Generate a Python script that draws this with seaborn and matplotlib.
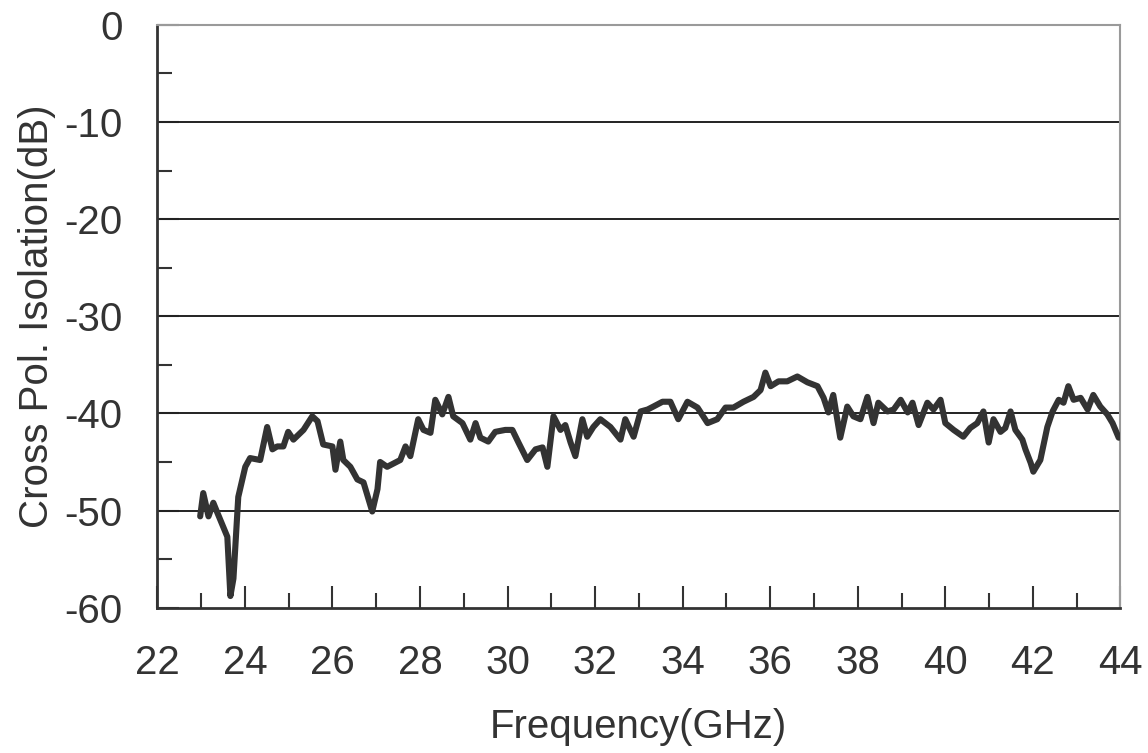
import pandas as pd
import matplotlib.pyplot as plt
import seaborn as sns

# === DADOS ===
freq_ghz = [
    22.98, 23.05, 23.17, 23.28, 23.37, 23.60, 23.67, 23.74, 23.85, 24.01,
    24.12, 24.35, 24.51, 24.63, 24.74, 24.88, 24.99, 25.11, 25.34, 25.54,
    25.66, 25.79, 26.00, 26.07, 26.18, 26.25, 26.41, 26.57, 26.71, 26.91,
    27.03, 27.09, 27.25, 27.55, 27.67, 27.78, 27.96, 28.08, 28.24, 28.35,
    28.51, 28.65, 28.76, 28.97, 29.15, 29.27, 29.38, 29.56, 29.72, 29.95,
    30.11, 30.25, 30.45, 30.64, 30.80, 30.91, 31.05, 31.21, 31.32, 31.44,
    31.55, 31.71, 31.82, 31.96, 32.12, 32.35, 32.58, 32.69, 32.88, 33.04,
    33.20, 33.33, 33.54, 33.72, 33.90, 34.11, 34.34, 34.57, 34.79, 34.98,
    35.16, 35.39, 35.62, 35.78, 35.89, 36.01, 36.19, 36.39, 36.62, 36.85,
    37.08, 37.22, 37.33, 37.44, 37.60, 37.76, 37.90, 38.06, 38.22, 38.36,
    38.47, 38.68, 38.82, 38.98, 39.14, 39.25, 39.39, 39.59, 39.73, 39.89,
    40.00, 40.19, 40.41, 40.57, 40.73, 40.87, 40.99, 41.10, 41.26, 41.37,
    41.49, 41.60, 41.76, 41.83, 41.95, 42.01, 42.17, 42.33, 42.45, 42.59,
    42.70, 42.81, 42.93, 43.09, 43.25, 43.38, 43.54, 43.70, 43.82, 43.96,
]
isolacao_db = [
    -50.6, -48.2, -50.6, -49.2, -50.2, -52.7, -58.8, -57.0, -48.6, -45.5,
    -44.6, -44.8, -41.4, -43.7, -43.4, -43.4, -41.9, -42.7, -41.7, -40.3,
    -40.8, -43.2, -43.4, -45.8, -42.9, -44.8, -45.5, -46.8, -47.1, -50.1,
    -47.8, -45.0, -45.5, -44.8, -43.4, -44.4, -40.6, -41.7, -42.0, -38.6,
    -40.1, -38.3, -40.3, -41.0, -42.7, -41.0, -42.5, -42.9, -41.9, -41.7,
    -41.7, -43.0, -44.8, -43.7, -43.5, -45.5, -40.3, -41.7, -41.2, -43.0,
    -44.4, -40.6, -42.4, -41.4, -40.6, -41.4, -42.7, -40.6, -42.4, -39.8,
    -39.6, -39.3, -38.8, -38.8, -40.6, -38.8, -39.4, -41.0, -40.6, -39.4,
    -39.4, -38.8, -38.3, -37.6, -35.8, -37.2, -36.7, -36.7, -36.2, -36.8,
    -37.2, -38.4, -39.9, -38.1, -42.5, -39.3, -40.3, -40.6, -38.3, -41.0,
    -38.9, -39.8, -39.6, -38.6, -39.9, -38.9, -41.2, -38.9, -39.6, -38.6,
    -41.0, -41.7, -42.4, -41.5, -41.0, -39.8, -43.0, -40.6, -41.9, -41.5,
    -39.8, -41.7, -42.7, -43.7, -45.1, -46.0, -44.8, -41.4, -39.8, -38.6,
    -38.9, -37.2, -38.6, -38.4, -39.6, -38.1, -39.3, -40.1, -41.0, -42.5,
]

df = pd.DataFrame({"freq": freq_ghz, "iso": isolacao_db})

# === ESTILO ===
sns.set_style("ticks")
plt.rcParams['font.family'] = ['Liberation Sans', 'DejaVu Sans']
plt.rcParams['axes.unicode_minus'] = False  # hífen comum, como no original
cor_texto = '#333333'

fig = plt.figure(figsize=(11.48, 7.53), dpi=100)
ax = fig.add_axes([0.137, 0.193, 0.839, 0.774])

# linhas de grade horizontais
for y in [-10, -20, -30, -40, -50]:
    ax.axhline(y, color='#222222', linewidth=1.4, zorder=1)

sns.lineplot(data=df, x="freq", y="iso", sort=False, color='#333333',
             linewidth=4.4, ax=ax, zorder=3)

ax.set_xlim(22, 44)
ax.set_ylim(-60, 0)
ax.set_xticks(range(22, 45, 2))
ax.set_xticks(range(23, 44, 2), minor=True)
ax.set_yticks(range(-60, 1, 10))
ax.set_yticks(range(-55, 0, 10), minor=True)

ax.tick_params(axis='both', which='major', direction='in', length=16, width=1.5,
               color='#333333', labelsize=29, labelcolor=cor_texto)
ax.tick_params(axis='both', which='minor', direction='in', length=11, width=1.5,
               color='#333333')
ax.tick_params(axis='x', which='major', pad=26)
ax.tick_params(axis='y', which='major', pad=25)

for lado in ['left', 'bottom']:
    ax.spines[lado].set_color('#333333')
    ax.spines[lado].set_linewidth(2)
for lado in ['top', 'right']:
    ax.spines[lado].set_color('#9a9a9a')
    ax.spines[lado].set_linewidth(1.5)

ax.set_xlabel("Frequency(GHz)", fontsize=29, color=cor_texto, labelpad=19)
ax.set_ylabel("Cross Pol. Isolation(dB)", fontsize=29, color=cor_texto, labelpad=6)

fig.savefig("out.png", dpi=100)
plt.close(fig)
